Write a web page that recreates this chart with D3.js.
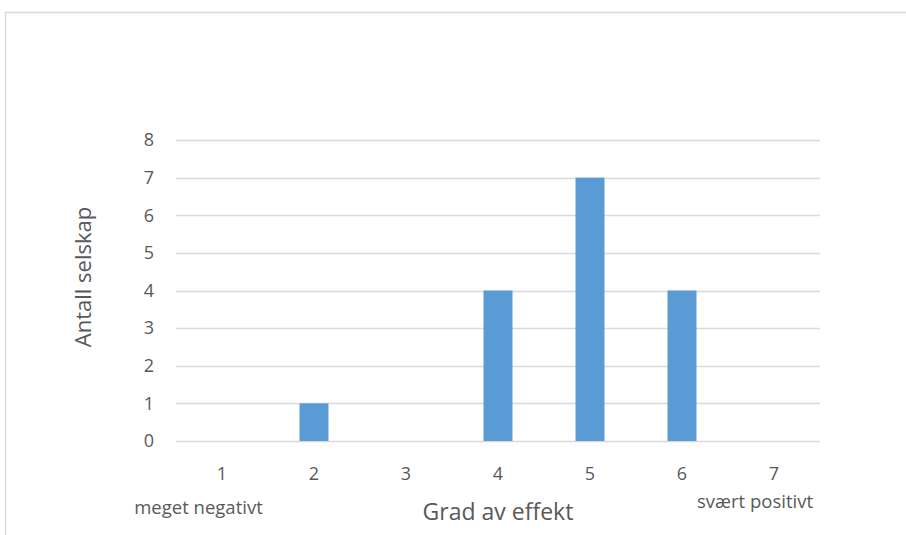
<!DOCTYPE html>
<html>
<head>
<meta charset="utf-8">
<script src="https://cdn.jsdelivr.net/npm/d3@7"></script>
<style>
  html, body { margin: 0; padding: 0; background: #fff; }
  svg { display: block; font-family: "Open Sans", "Noto Sans", sans-serif; }
</style>
</head>
<body>
<svg id="chart" width="906" height="535"></svg>
<script>
// Survey answers: number of companies per degree of effect (1–7)
const categories = ["1", "2", "3", "4", "5", "6", "7"];
const values = [0, 1, 0, 4, 7, 4, 0];
const yTicks = [0, 1, 2, 3, 4, 5, 6, 7, 8];
const xTitle = "Grad av effekt";
const yTitle = "Antall selskap";
const lowEndLabel = "meget negativt";
const highEndLabel = "svært positivt";

const svg = d3.select("#chart");
const textColor = "#595959";
const gridColor = "#d9d9d9";
const barColor = "#5b9bd5";

// Chart frame (top and left edges)
svg.append("path")
  .attr("d", "M5.5,535 V12.5 H906")
  .attr("fill", "none")
  .attr("stroke", gridColor)
  .attr("stroke-width", 1.5);

const plot = { left: 176, right: 820, top: 140, bottom: 441 };

const x = d3.scaleBand().domain(categories).range([plot.left, plot.right]);

const y = d3.scaleLinear()
  .domain([0, 8])
  .range([plot.bottom, plot.top]);

// Horizontal gridlines
svg.append("g")
  .selectAll("line")
  .data(yTicks)
  .join("line")
  .attr("x1", plot.left)
  .attr("x2", plot.right)
  .attr("y1", d => Math.round(y(d)) + 0.5)
  .attr("y2", d => Math.round(y(d)) + 0.5)
  .attr("stroke", gridColor)
  .attr("stroke-width", 1.5);

// Bars, about a third of each category slot wide
const barWidth = x.bandwidth() * 0.315;
svg.append("g")
  .selectAll("rect")
  .data(values.map((v, i) => ({ cat: categories[i], v })))
  .join("rect")
  .attr("x", d => x(d.cat) + x.bandwidth() / 2 - barWidth / 2)
  .attr("width", barWidth)
  .attr("y", d => y(d.v))
  .attr("height", d => y(0) - y(d.v))
  .attr("fill", barColor);

// Y axis tick labels
const yAxis = d3.axisLeft(y).tickValues(yTicks).tickSize(0).tickPadding(0);
const yg = svg.append("g")
  .attr("transform", `translate(${plot.left - 22},0)`)
  .call(yAxis);
yg.select(".domain").remove();
yg.selectAll("text")
  .attr("fill", textColor)
  .style("font-size", "18px")
  .style("font-family", "'Open Sans', sans-serif");

// X axis tick labels
const xAxis = d3.axisBottom(x).tickSize(0).tickPadding(0);
const xg = svg.append("g")
  .attr("transform", `translate(0,${plot.bottom + 26})`)
  .call(xAxis);
xg.select(".domain").remove();
xg.selectAll("text")
  .attr("fill", textColor)
  .style("font-size", "18px")
  .style("font-family", "'Open Sans', sans-serif");

// Axis titles
svg.append("text")
  .attr("x", 498)
  .attr("y", 520)
  .attr("text-anchor", "middle")
  .attr("fill", textColor)
  .style("font-size", "23px")
  .text(xTitle);

svg.append("text")
  .attr("transform", "translate(91,277) rotate(-90)")
  .attr("text-anchor", "middle")
  .attr("fill", textColor)
  .style("font-size", "22px")
  .text(yTitle);

// Scale end annotations
svg.append("text")
  .attr("x", 198.5)
  .attr("y", 514)
  .attr("text-anchor", "middle")
  .attr("fill", textColor)
  .style("font-size", "18.5px")
  .text(lowEndLabel);

svg.append("text")
  .attr("x", 755)
  .attr("y", 508)
  .attr("text-anchor", "middle")
  .attr("fill", textColor)
  .style("font-size", "18.5px")
  .text(highEndLabel);
</script>
</body>
</html>
